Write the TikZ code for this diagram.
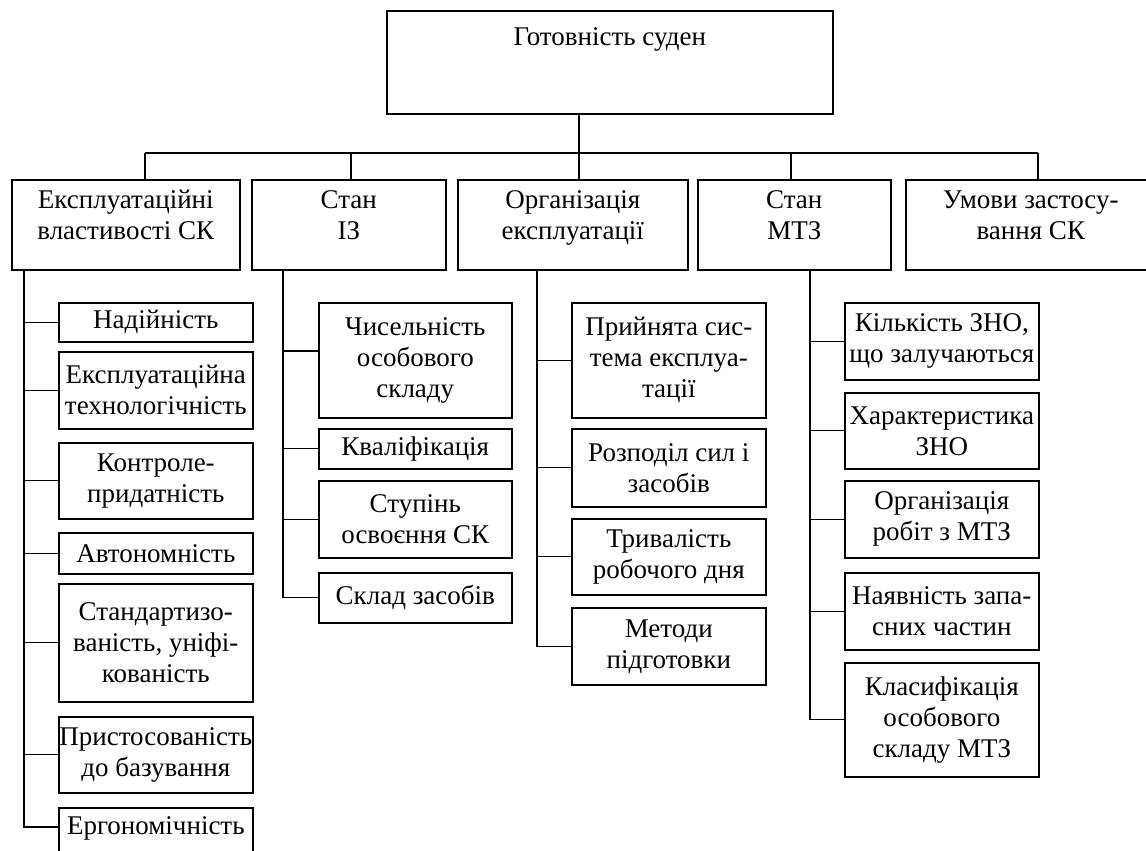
\documentclass[tikz,border=0pt]{standalone}
\usepackage{fontspec}
\setmainfont{Liberation Serif}
\tikzset{
  box/.style={draw, line width=1.6pt, inner sep=0pt},
  conn/.style={line width=1.3pt}
}
\newcommand\bx[7]{\node[box,anchor=north west] (#1) at (#2,#3) {\parbox[c][#5pt][#6]{#4pt}{\centering #7}};}
\begin{document}
\begin{tikzpicture}[x=1pt,y=-1pt,font=\fontsize{27}{31}\selectfont]
\useasboundingbox (0,0) rectangle (1146,851);
\clip (0,0) rectangle (1146,851);
% top
\bx{top}{386}{10}{446}{103}{t}{\rule{0pt}{35pt}Готовність суден}
% level 2
\bx{b1}{11}{179}{228}{90}{t}{\rule{0pt}{29pt}Експлуатаційні\\властивості СК}
\bx{b2}{251}{179}{194}{90}{t}{\rule{0pt}{29pt}Стан\\ІЗ}
\bx{b3}{457}{179}{230}{90}{t}{\rule{0pt}{29pt}Організація\\експлуатації}
\bx{b4}{697}{179}{193}{90}{t}{\rule{0pt}{29pt}Стан\\МТЗ}
\bx{b5}{905}{179}{250}{90}{t}{\rule{0pt}{29pt}Умови застосу-\\вання СК}
% column 1
\bx{s11}{58}{302}{194}{39}{c}{Надійність}
\bx{s12}{58}{351}{194}{77}{c}{Експлуатаційна\\технологічність}
\bx{s13}{58}{442}{194}{76}{c}{Контроле-\\придатність}
\bx{s14}{58}{532}{194}{41}{c}{Автономність}
\bx{s15}{58}{583}{194}{118}{c}{Стандартизо-\\ваність, уніфі-\\кованість}
\bx{s16}{58}{716}{194}{76}{c}{Пристосованість\\до базування}
\bx{s17}{58}{807}{194}{60}{t}{\rule{0pt}{27pt}Ергономічність}
% column 2
\bx{s21}{318}{302}{193}{115}{c}{Чисельність\\особового\\складу}
\bx{s22}{318}{428}{193}{40}{c}{Кваліфікація}
\bx{s23}{318}{480}{193}{77}{c}{Ступінь\\освоєння СК}
\bx{s24}{318}{572}{193}{50}{c}{Склад засобів}
% column 3
\bx{s31}{571}{302}{194}{115}{c}{Прийнята сис-\\тема експлуа-\\тації}
\bx{s32}{571}{428}{194}{78}{c}{Розподіл сил і\\засобів}
\bx{s33}{571}{518}{194}{76}{c}{Тривалість\\робочого дня}
\bx{s34}{571}{607}{194}{77}{c}{Методи\\підготовки}
% column 4
\bx{s41}{844}{302}{194}{77}{c}{Кількість ЗНО,\\що залучаються}
\bx{s42}{844}{392}{194}{76}{c}{Характеристика\\ЗНО}
\bx{s43}{844}{480}{194}{77}{c}{Організація\\робіт з МТЗ}
\bx{s44}{844}{572}{194}{77}{c}{Наявність запа-\\сних частин}
\bx{s45}{844}{662}{194}{114}{c}{Класифікація\\особового\\складу МТЗ}
% bus
\coordinate (j1) at (145,153);
\coordinate (j2) at (351,153);
\coordinate (j3) at (579,153);
\coordinate (j4) at (791,153);
\coordinate (j5) at (1038,153);
\draw[conn] (j3 |- top.south) -- (j3);
\draw[conn] (j1) -- (j5);
\draw[conn] (j1) -- (j1 |- b1.north);
\draw[conn] (j2) -- (j2 |- b2.north);
\draw[conn] (j3) -- (j3 |- b3.north);
\draw[conn] (j4) -- (j4 |- b4.north);
\draw[conn] (j5) -- (j5 |- b5.north);
% trunks
\coordinate (t1) at (24,0);
\coordinate (t2) at (283,0);
\coordinate (t3) at (537,0);
\coordinate (t4) at (810,0);
\coordinate (e17) at (24,827);
\coordinate (e21) at (283,351);
% column 1
\draw[conn] (b1.south -| t1) -- (e17) -- (e17 -| s17.west);
\foreach \n in {s11,s12,s13,s14,s15,s16} \draw[conn] (t1 |- \n.west) -- (\n.west);
% column 2
\draw[conn] (b2.south -| t2) -- (t2 |- s24.west) -- (s24.west);
\draw[conn] (e21) -- (e21 -| s21.west);
\foreach \n in {s22,s23} \draw[conn] (t2 |- \n.west) -- (\n.west);
% column 3
\draw[conn] (b3.south -| t3) -- (t3 |- s34.west) -- (s34.west);
\foreach \n in {s31,s32,s33} \draw[conn] (t3 |- \n.west) -- (\n.west);
% column 4
\draw[conn] (b4.south -| t4) -- (t4 |- s45.west) -- (s45.west);
\foreach \n in {s41,s42,s43,s44} \draw[conn] (t4 |- \n.west) -- (\n.west);
\end{tikzpicture}
\end{document}
